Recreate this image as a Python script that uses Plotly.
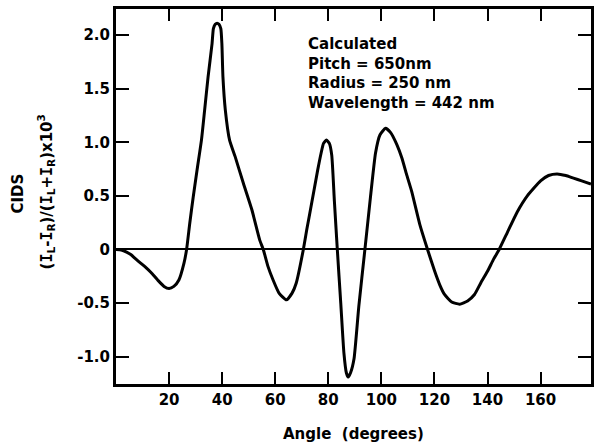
import plotly.graph_objects as go

angle = [0, 2, 4, 5.7, 7.5, 9.4, 11.3, 13.2, 15.7, 18.1, 20, 21.8, 23.7, 25.6, 26.6,
         27.8, 29.1, 30.6, 32.2, 33.4, 34.7, 36.2, 36.7, 37.4, 38.1, 38.8, 39.5, 39.9,
         40.3, 41.2, 42.8, 44.9, 48, 51.2, 54.2, 55.5, 57.3, 59.2, 61.5, 64.2, 66.3,
         67.9, 70.6, 72, 73.5, 76, 77.3, 78.2, 79.3, 80.4, 81.3, 82.3, 83.4, 84.7, 85.9,
         86.8, 87.5, 88.4, 89.7, 91.5, 93.8, 95.9, 97.8, 99.5, 101.6, 103.5, 105.8,
         107.7, 109.5, 111.4, 114.5, 117.4, 120.1, 122, 123.8, 126.5, 129.5, 132.5,
         135.1, 137.5, 140, 142.3, 144.4, 147.5, 151.2, 155, 160, 163, 166.2, 169.5,
         172.4, 175.5, 179]
cids = [0, -0.005, -0.025, -0.05, -0.09, -0.13, -0.17, -0.215, -0.285, -0.345, -0.365,
        -0.345, -0.285, -0.13, 0, 0.245, 0.49, 0.75, 1.02, 1.30, 1.61, 1.92, 2.06, 2.10,
        2.11, 2.10, 2.06, 1.92, 1.61, 1.30, 1.02, 0.866, 0.617, 0.37, 0.085, 0, -0.16,
        -0.285, -0.41, -0.47, -0.41, -0.315, 0, 0.2, 0.40, 0.74, 0.90, 0.99, 1.02, 0.99,
        0.88, 0.45, 0, -0.5, -0.97, -1.15, -1.19, -1.15, -1.02, -0.53, 0, 0.49, 0.90,
        1.07, 1.13, 1.09, 0.98, 0.855, 0.70, 0.544, 0.232, 0, -0.204, -0.33, -0.42,
        -0.49, -0.51, -0.48, -0.42, -0.31, -0.204, -0.09, 0, 0.16, 0.35, 0.50, 0.64,
        0.69, 0.705, 0.69, 0.665, 0.64, 0.61]

x_ticks = [20, 40, 60, 80, 100, 120, 140, 160]
x_labels = ["20", "40", "60", "80", "100", "120", "140", "160"]
y_ticks = [-1.0, -0.5, 0, 0.5, 1.0, 1.5, 2.0]
y_labels = ["-1.0", "-0.5", "0", "0.5", "1.0", "1.5", "2.0"]

FONT = "DejaVu Sans"
W, H = 596, 442
ML, MR, MT, MB = 116, 2, 9, 58
plot_w = W - ML - MR
plot_h = H - MT - MB


def px_to_paper(px, py):
    return (px - ML) / plot_w, 1 - (py - MT) / plot_h


fig = go.Figure()
fig.add_trace(go.Scatter(x=angle, y=cids, mode="lines",
                         line=dict(color="black", width=3, shape="spline", smoothing=0.5),
                         showlegend=False, hoverinfo="skip"))

bold = dict(family=FONT, size=15, color="black", weight=700)

ax_x, ax_y = px_to_paper(355, 434)
c1x, c1y = px_to_paper(17, 194)
c2x, c2y = px_to_paper(45, 192)
tx, ty = px_to_paper(307, 33)

I = '<span style="font-family:DejaVu Sans Mono">I</span>'
ytitle = f"({I}<sub>L</sub>-{I}<sub>R</sub>)/({I}<sub>L</sub>+{I}<sub>R</sub>)x10<sup>3</sup>"

fig.update_layout(
    width=W, height=H,
    margin=dict(l=ML, r=MR, t=MT, b=MB),
    paper_bgcolor="white", plot_bgcolor="white",
    font=bold,
    xaxis=dict(range=[0, 179], tickvals=x_ticks, ticktext=x_labels,
               ticks="inside", ticklen=12, tickwidth=2, tickcolor="black",
               showline=True, linewidth=3, linecolor="black", mirror="ticks",
               showgrid=False, zeroline=False, tickfont=bold),
    yaxis=dict(range=[-1.255, 2.243], tickvals=y_ticks, ticktext=y_labels,
               ticks="inside", ticklen=13, tickwidth=2, tickcolor="black",
               showline=True, linewidth=3, linecolor="black", mirror="ticks",
               showgrid=False, zeroline=True, zerolinecolor="black", zerolinewidth=2,
               tickfont=bold),
    annotations=[
        dict(x=ax_x, y=ax_y, xref="paper", yref="paper",
             text="Angle  (degrees)", showarrow=False,
             font=bold, xanchor="center", yanchor="middle"),
        dict(x=c1x, y=c1y, xref="paper", yref="paper", text="CIDS", showarrow=False,
             textangle=-90, font=bold, xanchor="center", yanchor="middle"),
        dict(x=c2x, y=c2y, xref="paper", yref="paper", text=ytitle,
             showarrow=False, textangle=-90, font=bold, xanchor="center", yanchor="middle"),
        dict(x=tx, y=ty, xref="paper", yref="paper", xanchor="left", yanchor="top",
             align="left", showarrow=False,
             text="Calculated<br>Pitch = 650nm<br>Radius = 250 nm<br>Wavelength = 442 nm",
             font=bold),
    ],
)

fig.write_html("out.html", config={"displayModeBar": False},
               post_script="document.body.style.margin='0';document.body.style.overflow='hidden';")
